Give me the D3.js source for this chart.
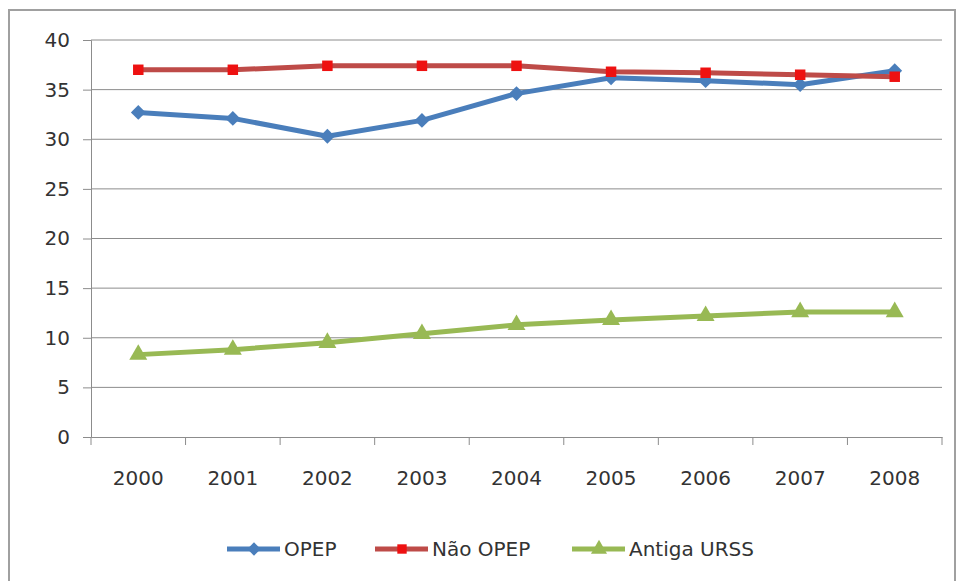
<!DOCTYPE html>
<html><head><meta charset="utf-8">
<script src="https://cdn.jsdelivr.net/npm/d3@7"></script>
<style>body{margin:0;background:#fff}svg{display:block}text{font-family:"DejaVu Sans",sans-serif;fill:#333}</style>
</head><body><svg id="c" width="958" height="581"></svg>
<script>
const categories = ["2000","2001","2002","2003","2004","2005","2006","2007","2008"];
const opep = [32.7, 32.1, 30.3, 31.9, 34.6, 36.2, 35.9, 35.5, 36.9];
const naoOpep = [37.0, 37.0, 37.4, 37.4, 37.4, 36.8, 36.7, 36.5, 36.3];
const antigaUrss = [8.3, 8.8, 9.5, 10.4, 11.3, 11.8, 12.2, 12.6, 12.6];
const yTicks = [0, 5, 10, 15, 20, 25, 30, 35, 40];
const seriesNames = ["OPEP", "Não OPEP", "Antiga URSS"];

const series = [
  {name: seriesNames[0], values: opep, line: "#4a7ebb", marker: "#4a7ebb", shape: d3.symbolSquare, rot: 45, size: 110},
  {name: seriesNames[1], values: naoOpep, line: "#be4b48", marker: "#ee1111", shape: d3.symbolSquare, rot: 0, size: 110},
  {name: seriesNames[2], values: antigaUrss, line: "#98b954", marker: "#98b954", shape: d3.symbolTriangle, rot: 0, size: 140}
];

const svg = d3.select("#c");
const L = 91, R = 942, T = 40, B = 437;

svg.append("rect").attr("x", 9).attr("y", 10).attr("width", 946).attr("height", 590)
  .attr("fill", "#fff").attr("stroke", "#a0a0a0").attr("stroke-width", 2);

const x = d3.scaleBand().domain(categories).range([L, R]);
const y = d3.scaleLinear().domain([0, 40]).range([B, T]);

// gridlines
svg.append("g").selectAll("line").data(yTicks.filter(t => t > 0)).join("line")
  .attr("x1", L).attr("x2", R).attr("y1", d => y(d)).attr("y2", d => y(d))
  .attr("stroke", "#8c8c8c").attr("stroke-width", 1);

// y axis
const ya = svg.append("g").attr("transform", `translate(${L},0)`)
  .call(d3.axisLeft(y).tickValues(yTicks).tickSize(8).tickPadding(13));
ya.select(".domain").attr("stroke", "#8c8c8c");
ya.selectAll(".tick line").attr("stroke", "#8c8c8c");
ya.selectAll("text").style("font-size", "20px").attr("fill", "#333");

// x axis
const xa = svg.append("g").attr("transform", `translate(0,${B})`)
  .call(d3.axisBottom(x).tickSize(0).tickPadding(34));
xa.select(".domain").attr("stroke", "#8c8c8c");
xa.selectAll("text").style("font-size", "20px").attr("fill", "#333");
// band boundary ticks
const bounds = categories.map(c => x(c)).concat([x(categories[categories.length-1]) + x.bandwidth()]);
xa.append("g").selectAll("line").data(bounds).join("line")
  .attr("x1", d => d).attr("x2", d => d).attr("y1", 0).attr("y2", 8)
  .attr("stroke", "#8c8c8c");

const cx = c => x(c) + x.bandwidth() / 2;
const line = d3.line().x((d, i) => cx(categories[i])).y(d => y(d));

series.forEach(s => {
  svg.append("path").datum(s.values).attr("d", line)
    .attr("fill", "none").attr("stroke", s.line).attr("stroke-width", 5).attr("stroke-linejoin", "round");
  svg.append("g").selectAll("path").data(s.values).join("path")
    .attr("transform", (d, i) => `translate(${cx(categories[i])},${y(d)}) rotate(${s.rot})`)
    .attr("d", d3.symbol().type(s.shape).size(s.size)).attr("fill", s.marker);
});

// legend
const legX = [227, 375, 572];
const lg = svg.append("g").attr("transform", "translate(0,549)");
series.forEach((s, i) => {
  const g = lg.append("g").attr("transform", `translate(${legX[i]},0)`);
  g.append("line").attr("x1", 0).attr("x2", 53).attr("y1", 0).attr("y2", 0)
    .attr("stroke", s.line).attr("stroke-width", 5);
  g.append("path").attr("transform", `translate(27,0) rotate(${s.rot})`)
    .attr("d", d3.symbol().type(s.shape).size(s.size * 0.8)).attr("fill", s.marker);
  g.append("text").attr("x", 57).attr("y", 0).attr("dy", "0.35em")
    .style("font-size", "20px").attr("fill", "#333").text(s.name);
});
</script></body></html>
